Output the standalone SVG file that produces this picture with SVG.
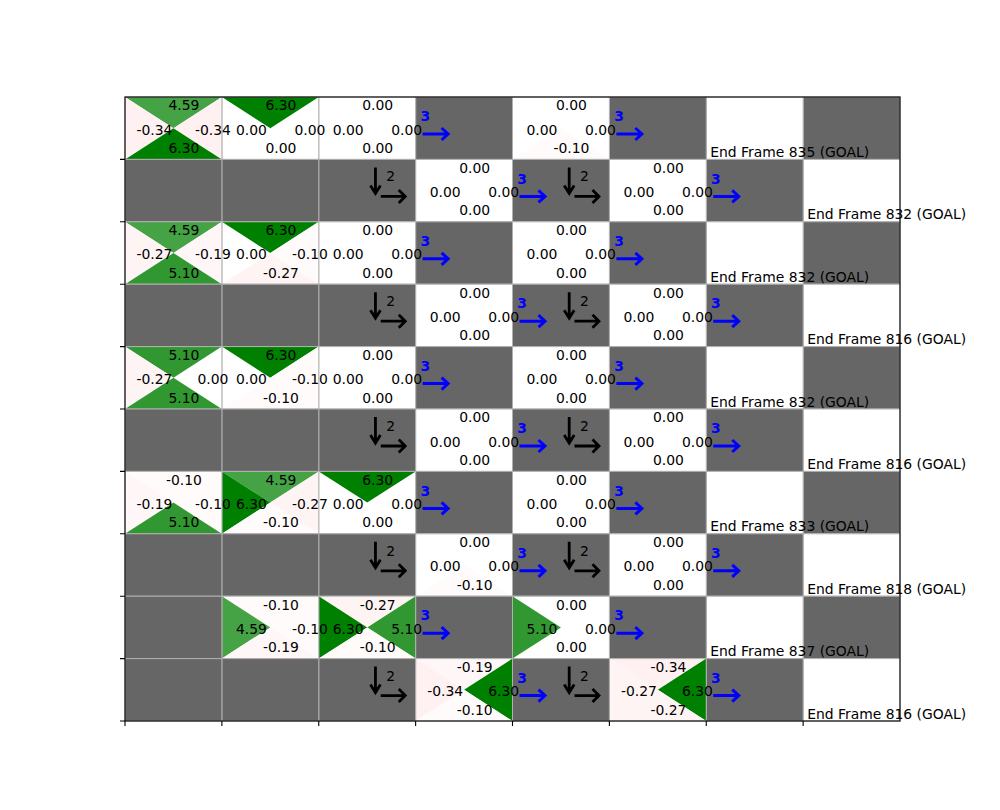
<svg xmlns="http://www.w3.org/2000/svg" width="1000" height="810" viewBox="0 0 1000 810">
<style>
.bg{fill:#ffffff}
.w{fill:#ffffff}
.o{fill:none;stroke:#b0b0b0;stroke-width:1}
.d{fill:#666666;stroke:#b0b0b0;stroke-width:1}
.q{font-family:"DejaVu Sans","Liberation Sans",sans-serif;font-size:13.9px;fill:#000000;text-anchor:middle}
.gl{font-family:"DejaVu Sans","Liberation Sans",sans-serif;font-size:13.9px;fill:#000000}
.b3{font-family:"DejaVu Sans","Liberation Sans",sans-serif;font-size:13.9px;font-weight:bold;fill:#0000ff}
.k2{font-family:"DejaVu Sans","Liberation Sans",sans-serif;font-size:13.9px;fill:#000000}
.ab{fill:none;stroke:#0000ff;stroke-width:3;stroke-linejoin:miter}
.ak{fill:none;stroke:#000000;stroke-width:2.8;stroke-linejoin:miter}
.spine{fill:none;stroke:#000000;stroke-width:1.1}
.tick{stroke:#000000;stroke-width:1.1}
</style>
<defs>
<polygon id="tT" points="0,0 96.875,0 48.44,31.2"/>
<polygon id="tB" points="0,62.4 96.875,62.4 48.44,31.2"/>
<polygon id="tL" points="0,0 0,62.4 48.44,31.2"/>
<polygon id="tR" points="96.875,0 96.875,62.4 48.44,31.2"/>
<path id="arrB" class="ab" d="M7,37 H32 M26,31 L32.5,37 L26,43"/>
<path id="arrK" class="ak" d="M56.7,8 V33.5 M51.7,26 L56.7,34 L61.7,26 M62,37 H86.5 M80,30.5 L86.5,37 L80,43.5"/>
</defs>
<rect class="bg" x="0" y="0" width="1000" height="810"/>

<g id="cells">
<!-- Row 0 -->
<g id="r0c7" transform="translate(803.125,97)"><rect class="d" width="96.875" height="62.4"/></g>
<g id="r0c6" transform="translate(706.25,97)"><rect class="w" width="96.875" height="62.4"/><rect class="o" width="96.875" height="62.4"/><text class="gl" x="4" y="60">End Frame 835 (GOAL)</text></g>
<g id="r0c5" transform="translate(609.375,97)"><rect class="d" width="96.875" height="62.4"/><text class="b3" x="4.8" y="24.2">3</text><use href="#arrB"/></g>
<g id="r0c4" transform="translate(512.5,97)"><rect class="w" width="96.875" height="62.4"/><use href="#tB" fill="#fffbfb"/><rect class="o" width="96.875" height="62.4"/><text class="q" x="59" y="13.4">0.00</text><text class="q" x="29.5" y="37.6">0.00</text><text class="q" x="88" y="37.6">0.00</text><text class="q" x="59" y="56">-0.10</text></g>
<g id="r0c3" transform="translate(415.625,97)"><rect class="d" width="96.875" height="62.4"/><text class="b3" x="4.8" y="24.2">3</text><use href="#arrB"/></g>
<g id="r0c2" transform="translate(318.75,97)"><rect class="w" width="96.875" height="62.4"/><rect class="o" width="96.875" height="62.4"/><text class="q" x="59" y="13.4">0.00</text><text class="q" x="29.5" y="37.6">0.00</text><text class="q" x="88" y="37.6">0.00</text><text class="q" x="59" y="56">0.00</text></g>
<g id="r0c1" transform="translate(221.875,97)"><rect class="w" width="96.875" height="62.4"/><use href="#tT" fill="#008000"/><rect class="o" width="96.875" height="62.4"/><text class="q" x="59" y="13.4">6.30</text><text class="q" x="29.5" y="37.6">0.00</text><text class="q" x="88" y="37.6">0.00</text><text class="q" x="59" y="56">0.00</text></g>
<g id="r0c0" transform="translate(125,97)"><rect class="w" width="96.875" height="62.4"/><use href="#tT" fill="#45a245"/><use href="#tL" fill="#fff1f1"/><use href="#tR" fill="#fff1f1"/><use href="#tB" fill="#008000"/><rect class="o" width="96.875" height="62.4"/><text class="q" x="59" y="13.4">4.59</text><text class="q" x="29.5" y="37.6">-0.34</text><text class="q" x="88" y="37.6">-0.34</text><text class="q" x="59" y="56">6.30</text></g>

<!-- Row 1 -->
<g id="r1c7" transform="translate(803.125,159.4)"><rect class="w" width="96.875" height="62.4"/><rect class="o" width="96.875" height="62.4"/><text class="gl" x="4" y="60">End Frame 832 (GOAL)</text></g>
<g id="r1c6" transform="translate(706.25,159.4)"><rect class="d" width="96.875" height="62.4"/><text class="b3" x="4.8" y="24.2">3</text><use href="#arrB"/></g>
<g id="r1c5" transform="translate(609.375,159.4)"><rect class="w" width="96.875" height="62.4"/><rect class="o" width="96.875" height="62.4"/><text class="q" x="59" y="13.4">0.00</text><text class="q" x="29.5" y="37.6">0.00</text><text class="q" x="88" y="37.6">0.00</text><text class="q" x="59" y="56">0.00</text></g>
<g id="r1c4" transform="translate(512.5,159.4)"><rect class="d" width="96.875" height="62.4"/><text class="b3" x="4.8" y="24.2">3</text><use href="#arrB"/><text class="k2" x="67.5" y="22">2</text><use href="#arrK"/></g>
<g id="r1c3" transform="translate(415.625,159.4)"><rect class="w" width="96.875" height="62.4"/><rect class="o" width="96.875" height="62.4"/><text class="q" x="59" y="13.4">0.00</text><text class="q" x="29.5" y="37.6">0.00</text><text class="q" x="88" y="37.6">0.00</text><text class="q" x="59" y="56">0.00</text></g>
<g id="r1c2" transform="translate(318.75,159.4)"><rect class="d" width="96.875" height="62.4"/><text class="k2" x="67.5" y="22">2</text><use href="#arrK"/></g>
<g id="r1c1" transform="translate(221.875,159.4)"><rect class="d" width="96.875" height="62.4"/></g>
<g id="r1c0" transform="translate(125,159.4)"><rect class="d" width="96.875" height="62.4"/></g>

<!-- Row 2 -->
<g id="r2c7" transform="translate(803.125,221.8)"><rect class="d" width="96.875" height="62.4"/></g>
<g id="r2c6" transform="translate(706.25,221.8)"><rect class="w" width="96.875" height="62.4"/><rect class="o" width="96.875" height="62.4"/><text class="gl" x="4" y="60">End Frame 832 (GOAL)</text></g>
<g id="r2c5" transform="translate(609.375,221.8)"><rect class="d" width="96.875" height="62.4"/><text class="b3" x="4.8" y="24.2">3</text><use href="#arrB"/></g>
<g id="r2c4" transform="translate(512.5,221.8)"><rect class="w" width="96.875" height="62.4"/><rect class="o" width="96.875" height="62.4"/><text class="q" x="59" y="13.4">0.00</text><text class="q" x="29.5" y="37.6">0.00</text><text class="q" x="88" y="37.6">0.00</text><text class="q" x="59" y="56">0.00</text></g>
<g id="r2c3" transform="translate(415.625,221.8)"><rect class="d" width="96.875" height="62.4"/><text class="b3" x="4.8" y="24.2">3</text><use href="#arrB"/></g>
<g id="r2c2" transform="translate(318.75,221.8)"><rect class="w" width="96.875" height="62.4"/><rect class="o" width="96.875" height="62.4"/><text class="q" x="59" y="13.4">0.00</text><text class="q" x="29.5" y="37.6">0.00</text><text class="q" x="88" y="37.6">0.00</text><text class="q" x="59" y="56">0.00</text></g>
<g id="r2c1" transform="translate(221.875,221.8)"><rect class="w" width="96.875" height="62.4"/><use href="#tT" fill="#008000"/><use href="#tR" fill="#fffbfb"/><use href="#tB" fill="#fff4f4"/><rect class="o" width="96.875" height="62.4"/><text class="q" x="59" y="13.4">6.30</text><text class="q" x="29.5" y="37.6">0.00</text><text class="q" x="88" y="37.6">-0.10</text><text class="q" x="59" y="56">-0.27</text></g>
<g id="r2c0" transform="translate(125,221.8)"><rect class="w" width="96.875" height="62.4"/><use href="#tT" fill="#45a245"/><use href="#tL" fill="#fff4f4"/><use href="#tR" fill="#fff7f7"/><use href="#tB" fill="#319831"/><rect class="o" width="96.875" height="62.4"/><text class="q" x="59" y="13.4">4.59</text><text class="q" x="29.5" y="37.6">-0.27</text><text class="q" x="88" y="37.6">-0.19</text><text class="q" x="59" y="56">5.10</text></g>

<!-- Row 3 -->
<g id="r3c7" transform="translate(803.125,284.2)"><rect class="w" width="96.875" height="62.4"/><rect class="o" width="96.875" height="62.4"/><text class="gl" x="4" y="60">End Frame 816 (GOAL)</text></g>
<g id="r3c6" transform="translate(706.25,284.2)"><rect class="d" width="96.875" height="62.4"/><text class="b3" x="4.8" y="24.2">3</text><use href="#arrB"/></g>
<g id="r3c5" transform="translate(609.375,284.2)"><rect class="w" width="96.875" height="62.4"/><rect class="o" width="96.875" height="62.4"/><text class="q" x="59" y="13.4">0.00</text><text class="q" x="29.5" y="37.6">0.00</text><text class="q" x="88" y="37.6">0.00</text><text class="q" x="59" y="56">0.00</text></g>
<g id="r3c4" transform="translate(512.5,284.2)"><rect class="d" width="96.875" height="62.4"/><text class="b3" x="4.8" y="24.2">3</text><use href="#arrB"/><text class="k2" x="67.5" y="22">2</text><use href="#arrK"/></g>
<g id="r3c3" transform="translate(415.625,284.2)"><rect class="w" width="96.875" height="62.4"/><rect class="o" width="96.875" height="62.4"/><text class="q" x="59" y="13.4">0.00</text><text class="q" x="29.5" y="37.6">0.00</text><text class="q" x="88" y="37.6">0.00</text><text class="q" x="59" y="56">0.00</text></g>
<g id="r3c2" transform="translate(318.75,284.2)"><rect class="d" width="96.875" height="62.4"/><text class="k2" x="67.5" y="22">2</text><use href="#arrK"/></g>
<g id="r3c1" transform="translate(221.875,284.2)"><rect class="d" width="96.875" height="62.4"/></g>
<g id="r3c0" transform="translate(125,284.2)"><rect class="d" width="96.875" height="62.4"/></g>

<!-- Row 4 -->
<g id="r4c7" transform="translate(803.125,346.6)"><rect class="d" width="96.875" height="62.4"/></g>
<g id="r4c6" transform="translate(706.25,346.6)"><rect class="w" width="96.875" height="62.4"/><rect class="o" width="96.875" height="62.4"/><text class="gl" x="4" y="60">End Frame 832 (GOAL)</text></g>
<g id="r4c5" transform="translate(609.375,346.6)"><rect class="d" width="96.875" height="62.4"/><text class="b3" x="4.8" y="24.2">3</text><use href="#arrB"/></g>
<g id="r4c4" transform="translate(512.5,346.6)"><rect class="w" width="96.875" height="62.4"/><rect class="o" width="96.875" height="62.4"/><text class="q" x="59" y="13.4">0.00</text><text class="q" x="29.5" y="37.6">0.00</text><text class="q" x="88" y="37.6">0.00</text><text class="q" x="59" y="56">0.00</text></g>
<g id="r4c3" transform="translate(415.625,346.6)"><rect class="d" width="96.875" height="62.4"/><text class="b3" x="4.8" y="24.2">3</text><use href="#arrB"/></g>
<g id="r4c2" transform="translate(318.75,346.6)"><rect class="w" width="96.875" height="62.4"/><rect class="o" width="96.875" height="62.4"/><text class="q" x="59" y="13.4">0.00</text><text class="q" x="29.5" y="37.6">0.00</text><text class="q" x="88" y="37.6">0.00</text><text class="q" x="59" y="56">0.00</text></g>
<g id="r4c1" transform="translate(221.875,346.6)"><rect class="w" width="96.875" height="62.4"/><use href="#tT" fill="#008000"/><use href="#tR" fill="#fffbfb"/><use href="#tB" fill="#fffbfb"/><rect class="o" width="96.875" height="62.4"/><text class="q" x="59" y="13.4">6.30</text><text class="q" x="29.5" y="37.6">0.00</text><text class="q" x="88" y="37.6">-0.10</text><text class="q" x="59" y="56">-0.10</text></g>
<g id="r4c0" transform="translate(125,346.6)"><rect class="w" width="96.875" height="62.4"/><use href="#tT" fill="#319831"/><use href="#tL" fill="#fff4f4"/><use href="#tB" fill="#319831"/><rect class="o" width="96.875" height="62.4"/><text class="q" x="59" y="13.4">5.10</text><text class="q" x="29.5" y="37.6">-0.27</text><text class="q" x="88" y="37.6">0.00</text><text class="q" x="59" y="56">5.10</text></g>

<!-- Row 5 -->
<g id="r5c7" transform="translate(803.125,409)"><rect class="w" width="96.875" height="62.4"/><rect class="o" width="96.875" height="62.4"/><text class="gl" x="4" y="60">End Frame 816 (GOAL)</text></g>
<g id="r5c6" transform="translate(706.25,409)"><rect class="d" width="96.875" height="62.4"/><text class="b3" x="4.8" y="24.2">3</text><use href="#arrB"/></g>
<g id="r5c5" transform="translate(609.375,409)"><rect class="w" width="96.875" height="62.4"/><rect class="o" width="96.875" height="62.4"/><text class="q" x="59" y="13.4">0.00</text><text class="q" x="29.5" y="37.6">0.00</text><text class="q" x="88" y="37.6">0.00</text><text class="q" x="59" y="56">0.00</text></g>
<g id="r5c4" transform="translate(512.5,409)"><rect class="d" width="96.875" height="62.4"/><text class="b3" x="4.8" y="24.2">3</text><use href="#arrB"/><text class="k2" x="67.5" y="22">2</text><use href="#arrK"/></g>
<g id="r5c3" transform="translate(415.625,409)"><rect class="w" width="96.875" height="62.4"/><rect class="o" width="96.875" height="62.4"/><text class="q" x="59" y="13.4">0.00</text><text class="q" x="29.5" y="37.6">0.00</text><text class="q" x="88" y="37.6">0.00</text><text class="q" x="59" y="56">0.00</text></g>
<g id="r5c2" transform="translate(318.75,409)"><rect class="d" width="96.875" height="62.4"/><text class="k2" x="67.5" y="22">2</text><use href="#arrK"/></g>
<g id="r5c1" transform="translate(221.875,409)"><rect class="d" width="96.875" height="62.4"/></g>
<g id="r5c0" transform="translate(125,409)"><rect class="d" width="96.875" height="62.4"/></g>

<!-- Row 6 -->
<g id="r6c7" transform="translate(803.125,471.4)"><rect class="d" width="96.875" height="62.4"/></g>
<g id="r6c6" transform="translate(706.25,471.4)"><rect class="w" width="96.875" height="62.4"/><rect class="o" width="96.875" height="62.4"/><text class="gl" x="4" y="60">End Frame 833 (GOAL)</text></g>
<g id="r6c5" transform="translate(609.375,471.4)"><rect class="d" width="96.875" height="62.4"/><text class="b3" x="4.8" y="24.2">3</text><use href="#arrB"/></g>
<g id="r6c4" transform="translate(512.5,471.4)"><rect class="w" width="96.875" height="62.4"/><rect class="o" width="96.875" height="62.4"/><text class="q" x="59" y="13.4">0.00</text><text class="q" x="29.5" y="37.6">0.00</text><text class="q" x="88" y="37.6">0.00</text><text class="q" x="59" y="56">0.00</text></g>
<g id="r6c3" transform="translate(415.625,471.4)"><rect class="d" width="96.875" height="62.4"/><text class="b3" x="4.8" y="24.2">3</text><use href="#arrB"/></g>
<g id="r6c2" transform="translate(318.75,471.4)"><rect class="w" width="96.875" height="62.4"/><use href="#tT" fill="#008000"/><rect class="o" width="96.875" height="62.4"/><text class="q" x="59" y="13.4">6.30</text><text class="q" x="29.5" y="37.6">0.00</text><text class="q" x="88" y="37.6">0.00</text><text class="q" x="59" y="56">0.00</text></g>
<g id="r6c1" transform="translate(221.875,471.4)"><rect class="w" width="96.875" height="62.4"/><use href="#tT" fill="#45a245"/><use href="#tL" fill="#008000"/><use href="#tR" fill="#fff4f4"/><use href="#tB" fill="#fffbfb"/><rect class="o" width="96.875" height="62.4"/><text class="q" x="59" y="13.4">4.59</text><text class="q" x="29.5" y="37.6">6.30</text><text class="q" x="88" y="37.6">-0.27</text><text class="q" x="59" y="56">-0.10</text></g>
<g id="r6c0" transform="translate(125,471.4)"><rect class="w" width="96.875" height="62.4"/><use href="#tT" fill="#fffbfb"/><use href="#tL" fill="#fff7f7"/><use href="#tR" fill="#fffbfb"/><use href="#tB" fill="#319831"/><rect class="o" width="96.875" height="62.4"/><text class="q" x="59" y="13.4">-0.10</text><text class="q" x="29.5" y="37.6">-0.19</text><text class="q" x="88" y="37.6">-0.10</text><text class="q" x="59" y="56">5.10</text></g>

<!-- Row 7 -->
<g id="r7c7" transform="translate(803.125,533.8)"><rect class="w" width="96.875" height="62.4"/><rect class="o" width="96.875" height="62.4"/><text class="gl" x="4" y="60">End Frame 818 (GOAL)</text></g>
<g id="r7c6" transform="translate(706.25,533.8)"><rect class="d" width="96.875" height="62.4"/><text class="b3" x="4.8" y="24.2">3</text><use href="#arrB"/></g>
<g id="r7c5" transform="translate(609.375,533.8)"><rect class="w" width="96.875" height="62.4"/><rect class="o" width="96.875" height="62.4"/><text class="q" x="59" y="13.4">0.00</text><text class="q" x="29.5" y="37.6">0.00</text><text class="q" x="88" y="37.6">0.00</text><text class="q" x="59" y="56">0.00</text></g>
<g id="r7c4" transform="translate(512.5,533.8)"><rect class="d" width="96.875" height="62.4"/><text class="b3" x="4.8" y="24.2">3</text><use href="#arrB"/><text class="k2" x="67.5" y="22">2</text><use href="#arrK"/></g>
<g id="r7c3" transform="translate(415.625,533.8)"><rect class="w" width="96.875" height="62.4"/><use href="#tB" fill="#fffbfb"/><rect class="o" width="96.875" height="62.4"/><text class="q" x="59" y="13.4">0.00</text><text class="q" x="29.5" y="37.6">0.00</text><text class="q" x="88" y="37.6">0.00</text><text class="q" x="59" y="56">-0.10</text></g>
<g id="r7c2" transform="translate(318.75,533.8)"><rect class="d" width="96.875" height="62.4"/><text class="k2" x="67.5" y="22">2</text><use href="#arrK"/></g>
<g id="r7c1" transform="translate(221.875,533.8)"><rect class="d" width="96.875" height="62.4"/></g>
<g id="r7c0" transform="translate(125,533.8)"><rect class="d" width="96.875" height="62.4"/></g>

<!-- Row 8 -->
<g id="r8c7" transform="translate(803.125,596.2)"><rect class="d" width="96.875" height="62.4"/></g>
<g id="r8c6" transform="translate(706.25,596.2)"><rect class="w" width="96.875" height="62.4"/><rect class="o" width="96.875" height="62.4"/><text class="gl" x="4" y="60">End Frame 837 (GOAL)</text></g>
<g id="r8c5" transform="translate(609.375,596.2)"><rect class="d" width="96.875" height="62.4"/><text class="b3" x="4.8" y="24.2">3</text><use href="#arrB"/></g>
<g id="r8c4" transform="translate(512.5,596.2)"><rect class="w" width="96.875" height="62.4"/><use href="#tL" fill="#319831"/><rect class="o" width="96.875" height="62.4"/><text class="q" x="59" y="13.4">0.00</text><text class="q" x="29.5" y="37.6">5.10</text><text class="q" x="88" y="37.6">0.00</text><text class="q" x="59" y="56">0.00</text></g>
<g id="r8c3" transform="translate(415.625,596.2)"><rect class="d" width="96.875" height="62.4"/><text class="b3" x="4.8" y="24.2">3</text><use href="#arrB"/></g>
<g id="r8c2" transform="translate(318.75,596.2)"><rect class="w" width="96.875" height="62.4"/><use href="#tT" fill="#fff4f4"/><use href="#tL" fill="#008000"/><use href="#tR" fill="#319831"/><use href="#tB" fill="#fffbfb"/><rect class="o" width="96.875" height="62.4"/><text class="q" x="59" y="13.4">-0.27</text><text class="q" x="29.5" y="37.6">6.30</text><text class="q" x="88" y="37.6">5.10</text><text class="q" x="59" y="56">-0.10</text></g>
<g id="r8c1" transform="translate(221.875,596.2)"><rect class="w" width="96.875" height="62.4"/><use href="#tT" fill="#fffbfb"/><use href="#tL" fill="#45a245"/><use href="#tR" fill="#fffbfb"/><use href="#tB" fill="#fff7f7"/><rect class="o" width="96.875" height="62.4"/><text class="q" x="59" y="13.4">-0.10</text><text class="q" x="29.5" y="37.6">4.59</text><text class="q" x="88" y="37.6">-0.10</text><text class="q" x="59" y="56">-0.19</text></g>
<g id="r8c0" transform="translate(125,596.2)"><rect class="d" width="96.875" height="62.4"/></g>

<!-- Row 9 -->
<g id="r9c7" transform="translate(803.125,658.6)"><rect class="w" width="96.875" height="62.4"/><rect class="o" width="96.875" height="62.4"/><text class="gl" x="4" y="60">End Frame 816 (GOAL)</text></g>
<g id="r9c6" transform="translate(706.25,658.6)"><rect class="d" width="96.875" height="62.4"/><text class="b3" x="4.8" y="24.2">3</text><use href="#arrB"/></g>
<g id="r9c5" transform="translate(609.375,658.6)"><rect class="w" width="96.875" height="62.4"/><use href="#tT" fill="#fff1f1"/><use href="#tL" fill="#fff4f4"/><use href="#tR" fill="#008000"/><use href="#tB" fill="#fff4f4"/><rect class="o" width="96.875" height="62.4"/><text class="q" x="59" y="13.4">-0.34</text><text class="q" x="29.5" y="37.6">-0.27</text><text class="q" x="88" y="37.6">6.30</text><text class="q" x="59" y="56">-0.27</text></g>
<g id="r9c4" transform="translate(512.5,658.6)"><rect class="d" width="96.875" height="62.4"/><text class="b3" x="4.8" y="24.2">3</text><use href="#arrB"/><text class="k2" x="67.5" y="22">2</text><use href="#arrK"/></g>
<g id="r9c3" transform="translate(415.625,658.6)"><rect class="w" width="96.875" height="62.4"/><use href="#tT" fill="#fff7f7"/><use href="#tL" fill="#fff1f1"/><use href="#tR" fill="#008000"/><use href="#tB" fill="#fffbfb"/><rect class="o" width="96.875" height="62.4"/><text class="q" x="59" y="13.4">-0.19</text><text class="q" x="29.5" y="37.6">-0.34</text><text class="q" x="88" y="37.6">6.30</text><text class="q" x="59" y="56">-0.10</text></g>
<g id="r9c2" transform="translate(318.75,658.6)"><rect class="d" width="96.875" height="62.4"/><text class="k2" x="67.5" y="22">2</text><use href="#arrK"/></g>
<g id="r9c1" transform="translate(221.875,658.6)"><rect class="d" width="96.875" height="62.4"/></g>
<g id="r9c0" transform="translate(125,658.6)"><rect class="d" width="96.875" height="62.4"/></g>
</g>

<g id="connectors"></g>

<g id="axes">
<rect class="spine" x="125" y="97" width="775" height="624"/>
<path class="tick" d="M125,721 V726 M221.875,721 V726 M318.75,721 V726 M415.625,721 V726 M512.5,721 V726 M609.375,721 V726 M706.25,721 V726 M803.125,721 V726"/>
<path class="tick" d="M125,159.4 H120 M125,221.8 H120 M125,284.2 H120 M125,346.6 H120 M125,409 H120 M125,471.4 H120 M125,533.8 H120 M125,596.2 H120 M125,658.6 H120 M125,721 H120"/>
</g>
</svg>
